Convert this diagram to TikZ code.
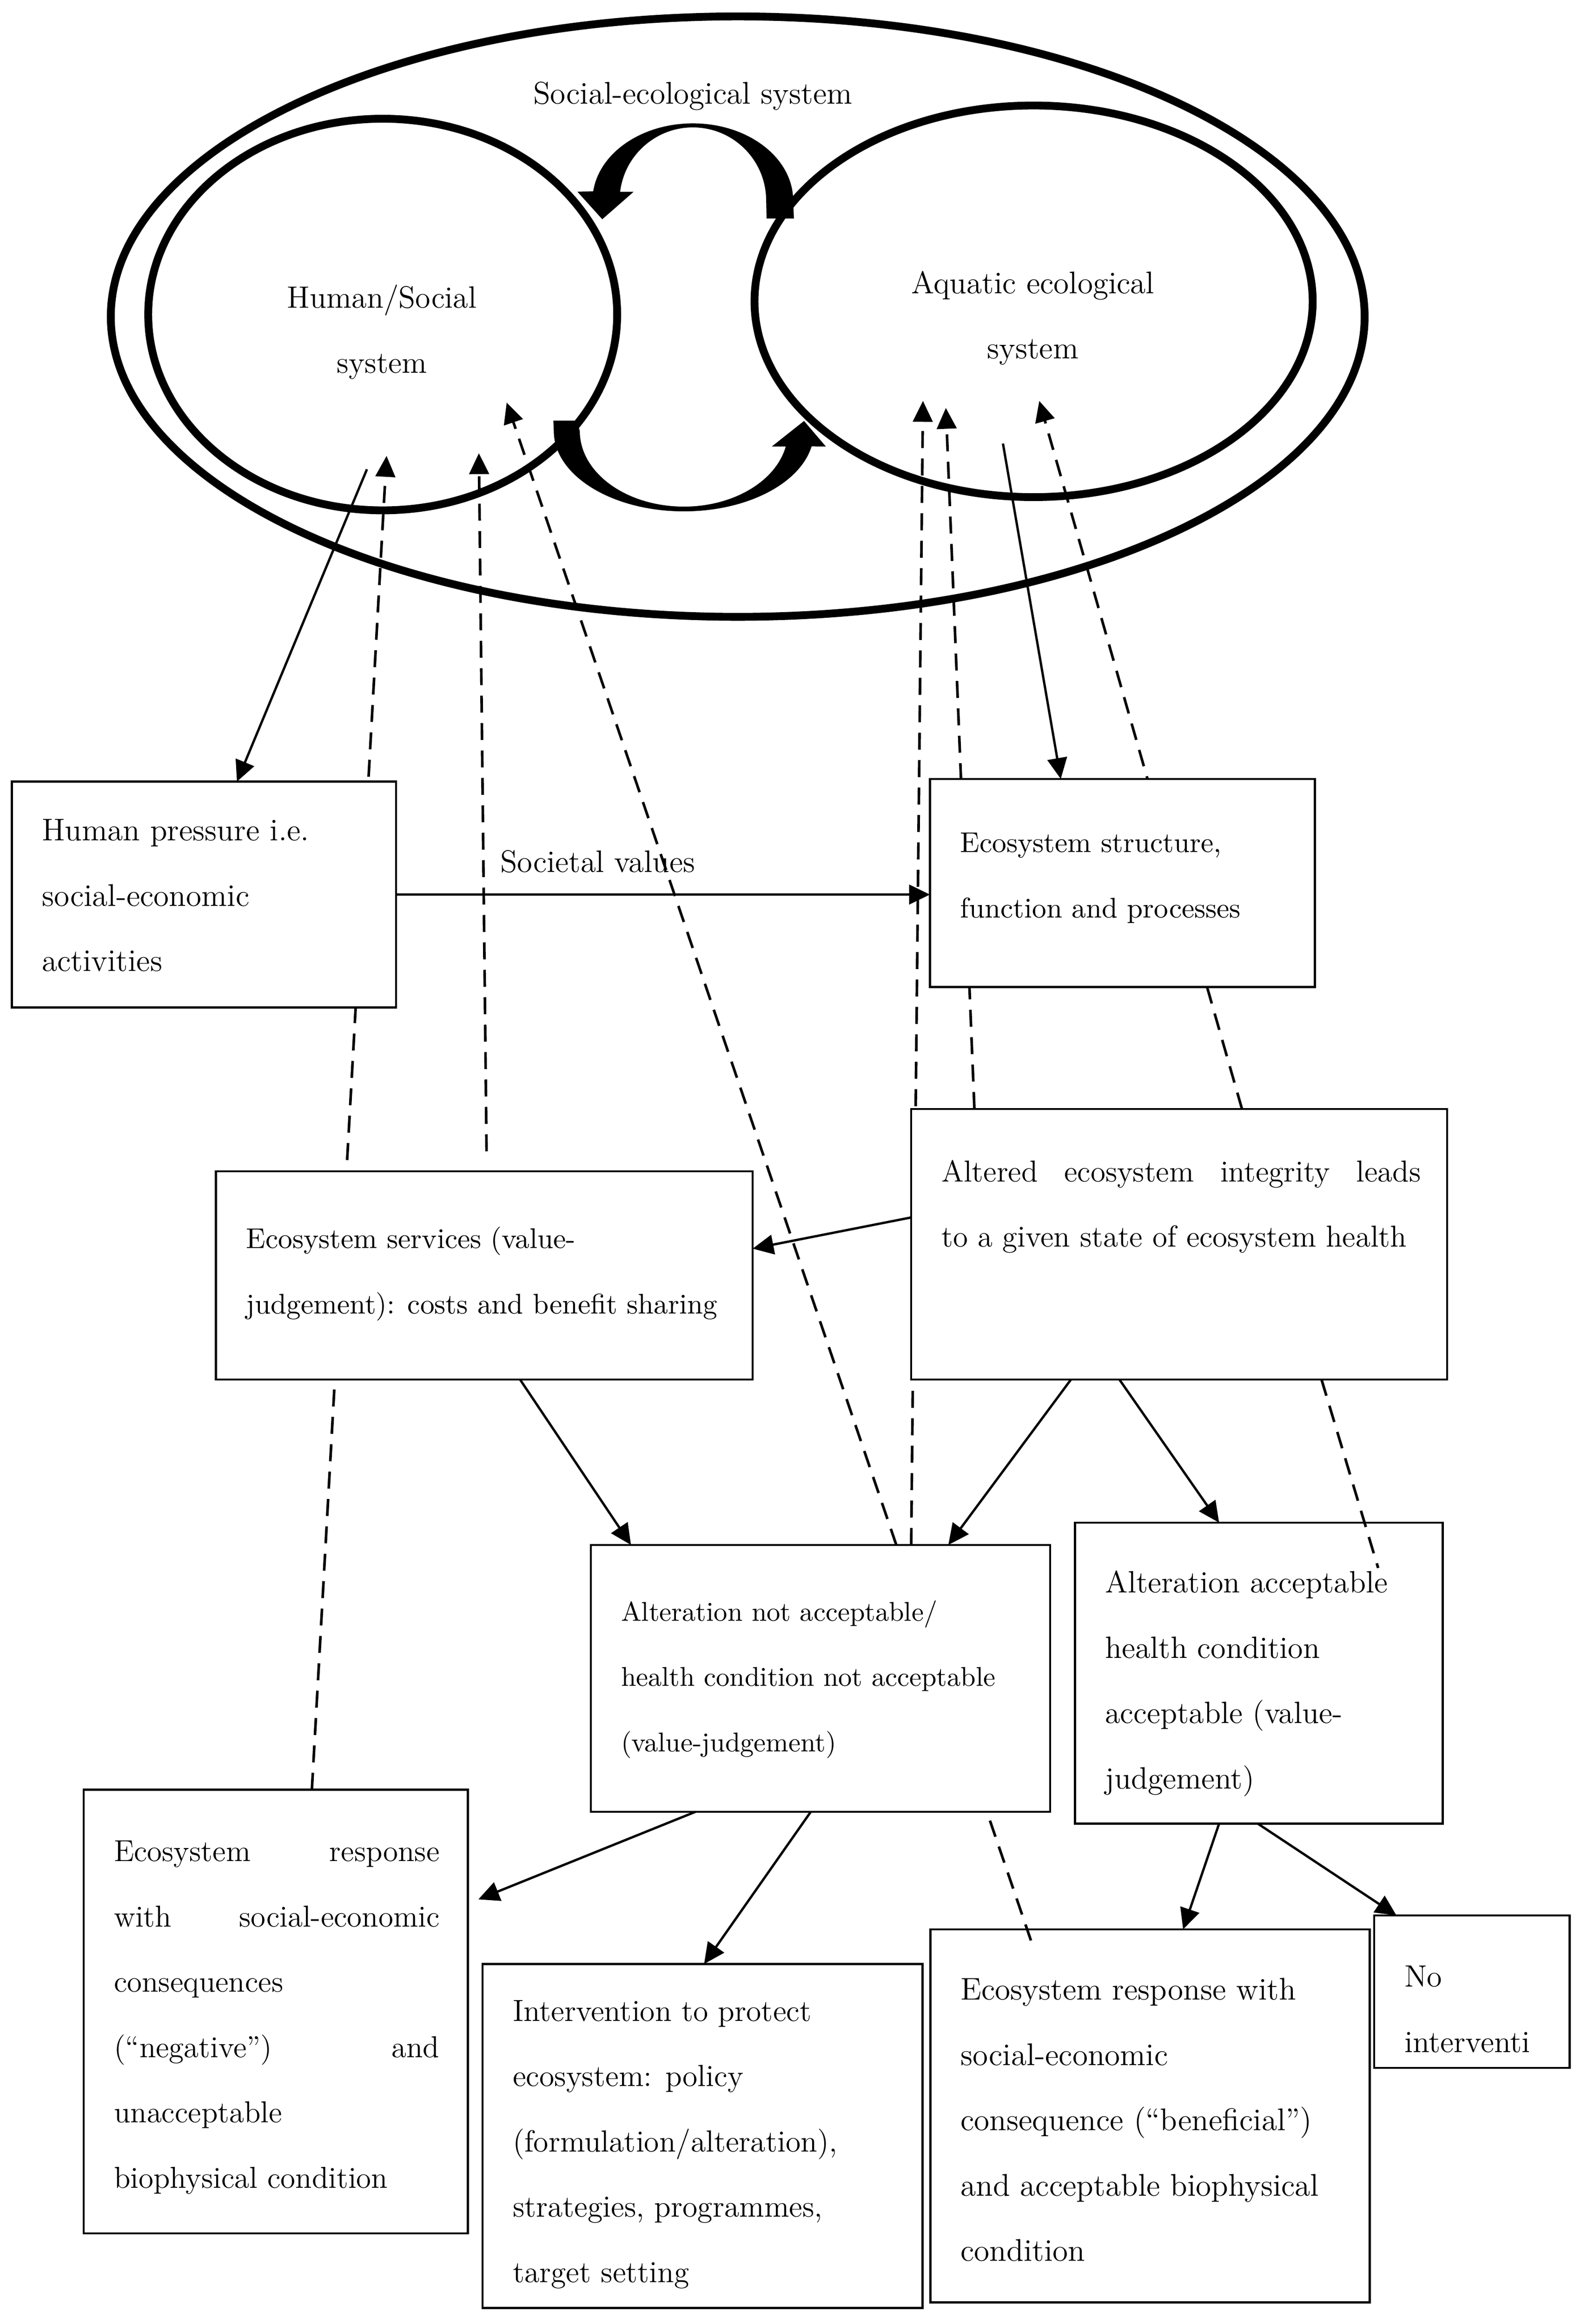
\documentclass[tikz,border=0pt]{standalone}
\usetikzlibrary{shapes.geometric,positioning,arrows.meta,backgrounds}
\begin{document}
\begin{tikzpicture}[x=0.02cm, y=-0.02cm,
    sys node/.style={ellipse, draw, line width=3pt, inner sep=0pt},
    box node/.style={rectangle, draw, fill=white, line width=0.8pt, inner sep=0pt, outer sep=0pt, anchor=north west},
    txt node/.style={inner sep=0pt, align=justify, font=\fontsize{#1}{25}\selectfont},
    link/.style={line width=0.9pt, -{Triangle[length=8pt,width=7.5pt]}},
    feedback/.style={link, line width=1pt, dash pattern=on 6.5pt off 4pt},
    plain dash/.style={line width=1pt, dash pattern=on 6.5pt off 4pt}]

  \useasboundingbox (0,0) rectangle (1067.8,1563.4);

  % Define systems
  \node[sys node, minimum width=16.87cm, minimum height=8.08cm] (ses) at (496.2,213) {};
  \node[sys node, minimum width=6.31cm, minimum height=5.27cm] (hss) at (257.4,211.6) {};
  \node[sys node, minimum width=7.51cm, minimum height=5.27cm] (aes) at (695.2,202.7) {};
  \node[txt node=12, anchor=base] (sesl) at (466,70) {Social-ecological system};
  \node[txt node=11.8, align=center, anchor=north] (hsl) at (256.9,191.1) {Human/Social\\system};
  \node[txt node=12, align=center, anchor=north] (ael) at (694.7,181.9) {Aquatic ecological\\system};

  % Interaction arrows
  \fill (534,147) -- (533.5,135) arc[start angle=0, end angle=-173, x radius=67.5, y radius=52]
    -- (388.4,129) -- (405.1,147.5) -- (426.2,129) -- (417.1,129)
    arc[start angle=-173, end angle=0, radius=49.3] -- (515.6,147) -- cycle;
  \fill (372.2,283) -- (372.5,290) arc[start angle=180, end angle=11, x radius=87.5, y radius=54]
    -- (555.5,300.4) -- (540.8,283.2) -- (519.1,300.4) -- (528.5,300.4)
    arc[start angle=11.8, end angle=180, x radius=70, y radius=50.8] -- (388,283) -- cycle;

  % Define boxes
  \node[box node, minimum width=5.17cm, minimum height=3.04cm] (hp) at (7.9,525.8) {};
  \node[box node, minimum width=5.18cm, minimum height=2.8cm] (esf) at (625.5,524) {};
  \node[box node, minimum width=7.21cm, minimum height=3.64cm] (alt) at (612.9,746) {};
  \node[box node, minimum width=7.22cm, minimum height=2.8cm] (ess) at (145.3,788) {};
  \node[box node, minimum width=6.18cm, minimum height=3.59cm] (ana) at (397.4,1039.3) {};
  \node[box node, minimum width=4.95cm, minimum height=4.05cm] (aa) at (723,1024.3) {};
  \node[box node, minimum width=5.17cm, minimum height=5.97cm] (ern) at (56.3,1204) {};
  \node[box node, minimum width=5.92cm, minimum height=4.63cm] (int) at (324.6,1321.2) {};
  \node[box node, minimum width=5.91cm, minimum height=5.02cm] (erb) at (625.8,1297.9) {};
  \node[box node, minimum width=2.63cm, minimum height=2.05cm] (ni) at (924.3,1288.6) {};

  % Box texts
  \node[txt node=12, text width=4.37cm, below right=0.5cm and 0.4cm of hp.north west] (hpt)
    {Human pressure i.e.\\ social-economic\\ activities};
  \node[txt node=10.9, text width=4.38cm, below right=0.72cm and 0.4cm of esf.north west] (esft)
    {Ecosystem structure,\\ function and processes};
  \node[txt node=11.6, text width=6.45cm, below right=0.68cm and 0.4cm of alt.north west] (altt)
    {Altered\hfill ecosystem\hfill integrity\hfill leads\\ to a given state of ecosystem health};
  \node[txt node=10.9, text width=6.5cm, below right=0.74cm and 0.4cm of ess.north west] (esst)
    {Ecosystem services (value-\\ judgement): costs and benefit sharing};
  \node[txt node=10.4, text width=5.38cm, below right=0.74cm and 0.4cm of ana.north west] (anat)
    {Alteration not acceptable/\\ health condition not acceptable\\ (value-judgement)};
  \node[txt node=11.8, text width=4.15cm, below right=0.64cm and 0.4cm of aa.north west] (aat)
    {Alteration acceptable\\ health condition\\ acceptable (value-\\ judgement)};
  \node[txt node=11.6, text width=4.38cm, below right=0.68cm and 0.4cm of ern.north west] (ernt)
    {Ecosystem\hfill response\\ with\hfill social-economic\\ consequences\\ (``negative'')\hfill and\\ unacceptable\\ biophysical condition};
  \node[txt node=11.7, text width=5.12cm, below right=0.48cm and 0.4cm of int.north west] (intt)
    {Intervention to protect\\ ecosystem: policy\\ (formulation/alteration),\\ strategies, programmes,\\ target setting};
  \node[txt node=12, text width=5.11cm, below right=0.65cm and 0.4cm of erb.north west] (erbt)
    {Ecosystem response with\\ social-economic\\ consequence (``beneficial'')\\ and acceptable biophysical\\ condition};
  \node[txt node=11.8, text width=1.9cm, below right=0.67cm and 0.4cm of ni.north west] (nit)
    {No\\ interventi};
  \node[txt node=11.9, anchor=base] (svl) at (402,586.8) {Societal values};

  % Free ends inside the systems
  \coordinate (hs1) at (246.8,315.7);
  \coordinate (hs2) at (260,306.7);
  \coordinate (hs3) at (322.1,304.9);
  \coordinate (hs4) at (340.8,270.8);
  \coordinate (ae1) at (674.6,298.4);
  \coordinate (ae2) at (620.8,269.7);
  \coordinate (ae3) at (636.2,274.4);
  \coordinate (ae4) at (699,269.7);

  % Feedback lines
  \begin{scope}[on background layer]
    \draw[feedback] ([xshift=3.07cm]ern.north west) -- (hs2);
    \draw[feedback] ([xshift=3.64cm,yshift=0.27cm]ess.north west) -- (hs3);
    \draw[feedback] ([xshift=4.11cm]ana.north west) -- (hs4);
    \draw[feedback] ([xshift=4.31cm]ana.north west) -- (ae2);
    \draw[feedback] ([xshift=0.85cm]alt.north west) -- (ae3);
    \draw[feedback] ([xshift=4.45cm]alt.north west) -- (ae4);
  \end{scope}
  \draw[plain dash] ([xshift=5.52cm]alt.south west) -- ([xshift=4.08cm,yshift=-0.61cm]aa.north west);
  \draw[plain dash] ([xshift=5.37cm,yshift=-0.12cm]ana.south west) -- ([xshift=1.38cm,yshift=-0.23cm]erb.north west);

  % Links
  \draw[link] (hs1) -- ([xshift=3.03cm]hp.north west);
  \draw[link] (ae1) -- ([xshift=1.76cm]esf.north west);
  \draw[link] (hp.east) -- (hp.east -| esf.west);
  \draw[link] ([yshift=0.36cm]alt.west) -- ([yshift=0.36cm]ess.east);
  \draw[link] ([xshift=4.09cm]ess.south west) -- ([xshift=0.54cm]ana.north west);
  \draw[link] ([xshift=2.15cm]alt.south west) -- ([xshift=4.81cm]ana.north west);
  \draw[link] ([xshift=2.8cm]alt.south west) -- ([xshift=1.94cm]aa.north west);
  \draw[link] ([xshift=1.41cm]ana.south west) -- ([xshift=0.14cm,yshift=1.51cm]ern.east);
  \draw[link] ([xshift=2.96cm]ana.south west) -- ([xshift=2.98cm]int.north west);
  \draw[link] ([xshift=1.94cm]aa.south west) -- ([xshift=3.4cm]erb.north west);
  \draw[link] ([xshift=2.46cm]aa.south west) -- ([xshift=0.3cm]ni.north west);

\end{tikzpicture}
\end{document}
